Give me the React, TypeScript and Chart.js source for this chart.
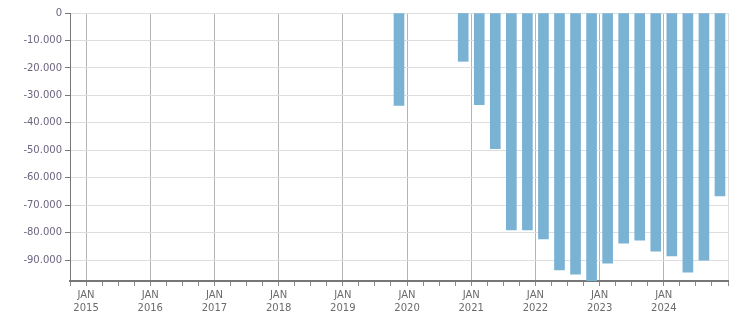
import React, { useEffect, useRef } from "react";
import { Chart, registerables } from "chart.js";

Chart.register(...registerables);

// Period of each bar (year-month), and its value
const periods = [
  "2019-11",
  "2020-11",
  "2021-02", "2021-05", "2021-08", "2021-11",
  "2022-02", "2022-05", "2022-08", "2022-11",
  "2023-02", "2023-05", "2023-08", "2023-11",
  "2024-02", "2024-05", "2024-08", "2024-11",
];
const values = [
  -33700,
  -17600,
  -33400, -49400, -79000, -79000,
  -82300, -93600, -95100, -97600,
  -91100, -83800, -82700, -86700,
  -88500, -94400, -90000, -66600,
];
const yTicks = [0, -10000, -20000, -30000, -40000, -50000, -60000, -70000, -80000, -90000];
const yMin = -97600;
const yMax = 0;
const xMin = 2014.75;
const xMax = 2025;

function periodToYear(p: string): number {
  const [y, m] = p.split("-").map(Number);
  return y + (m - 0.5) / 12;
}

function fmt(v: number): string {
  const s = Math.abs(Math.round(v)).toString().replace(/\B(?=(\d{3})+(?!\d))/g, ".");
  return (v < 0 ? "-" : "") + s;
}

export default function App() {
  const ref = useRef<HTMLCanvasElement | null>(null);
  useEffect(() => {
    if (!ref.current) return;
    const data = periods.map((p, i) => ({ x: periodToYear(p), y: values[i] }));
    const yFont = { family: "DejaVu Sans", size: 10 };
    const xFont = { family: "DejaVu Sans", size: 10, lineHeight: 1.3 };
    const chart = new Chart(ref.current, {
      type: "bar",
      data: {
        datasets: [
          {
            data,
            backgroundColor: "#7ab2d4",
            barThickness: 10,
            borderWidth: 0,
          },
        ],
      },
      options: {
        animation: false,
        responsive: false,
        maintainAspectRatio: false,
        layout: { padding: { top: 13, right: 23, left: 0, bottom: 0 } },
        plugins: { legend: { display: false }, tooltip: { enabled: false } },
        scales: {
          x: {
            type: "linear",
            min: xMin,
            max: xMax,
            offset: false,
            afterFit: (s: any) => {
              s.height = 32;
            },
            afterBuildTicks: (s: any) => {
              const t = [];
              for (let v = xMin; v <= xMax + 1e-9; v += 0.25) t.push({ value: Math.round(v * 100) / 100 });
              s.ticks = t;
            },
            ticks: {
              autoSkip: false,
              maxRotation: 0,
              color: "#6b6b6b",
              font: xFont,
              padding: 3,
              callback: (v: any) => {
                const n = Number(v);
                if (Math.abs(n - Math.round(n)) < 1e-6 && n >= 2015 && n <= 2024) return ["JAN", String(Math.round(n))];
                return "";
              },
            },
            grid: {
              offset: false,
              color: (ctx: any) => {
                const v = ctx.tick ? ctx.tick.value : NaN;
                if (Math.abs(v - 2025) < 1e-6) return "#dddddd";
                if (Math.abs(v - Math.round(v)) < 1e-6) return "#b4b4b4";
                return "rgba(0,0,0,0)";
              },
              tickColor: "#8a8a8a",
              tickLength: 5,
              drawTicks: true,
            },
            border: { color: "#777777", width: 2 },
          },
          y: {
            type: "linear",
            min: yMin,
            max: yMax,
            afterFit: (s: any) => {
              s.width = 70;
            },
            afterBuildTicks: (s: any) => {
              s.ticks = yTicks.map((v) => ({ value: v }));
            },
            ticks: {
              autoSkip: false,
              color: "#6e6480",
              font: yFont,
              padding: 3,
              callback: (v: any) => fmt(Number(v)),
            },
            grid: {
              color: "#dddddd",
              tickColor: "#777777",
              tickLength: 5,
            },
            border: { color: "#777777", width: 1 },
          },
        },
      },
    } as any);
    return () => chart.destroy();
  }, []);
  return (
    <div style={{ position: "absolute", left: 0, top: 0, width: 751, height: 313 }}>
      <canvas ref={ref} width={751} height={313} style={{ width: 751, height: 313 }} />
    </div>
  );
}
